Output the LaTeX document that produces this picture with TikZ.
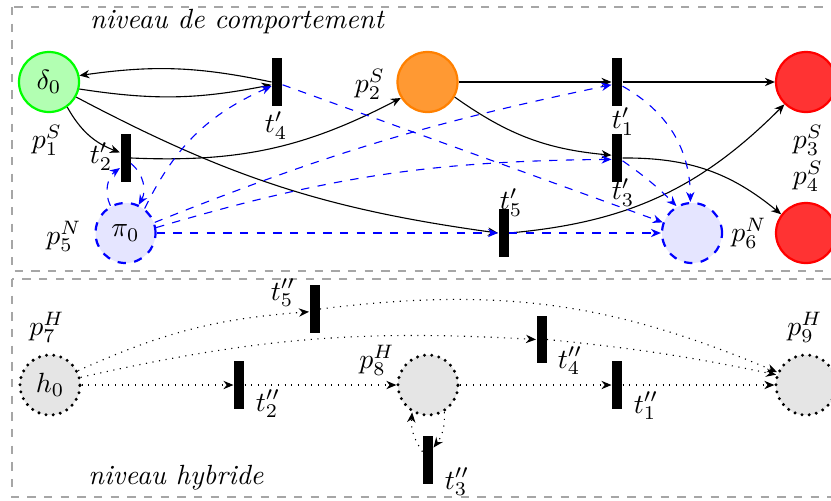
\documentclass[tikz,border=0pt]{standalone}
\usetikzlibrary{arrows.meta}
\begin{document}
\begin{tikzpicture}[x=0.36pt,y=0.36pt,
  pl/.style={circle,minimum size=21.6pt,inner sep=0pt,thick},
  tr/.style={rectangle,fill=black,minimum width=3.6pt,minimum height=17pt,inner sep=0pt},
  flow/.style={-{Stealth[length=3.6pt,width=3pt]}},
  netflow/.style={flow,blue,dashed},
  hyflow/.style={flow,dotted},
  hpl/.style={pl,fill=gray!20,draw=black,line width=1.2pt,dash pattern=on 0pt off 2.6pt,line cap=round},
  lbl/.style={inner sep=0pt},
  zone/.style={draw=gray!70,dashed}]
\useasboundingbox (0,0) rectangle (831,500);
% zones
\draw[zone] (12,493) rectangle (845,229);
\draw[zone] (12,221) rectangle (845,3);
\node[lbl] (zt) at (237,478) {\itshape niveau de comportement};
\node[lbl] (zb) at (176,22) {\itshape niveau hybride};
% top level
\node[pl,fill=green!30,draw=green] (d0) at (49,418) {$\delta_0$};
\node[tr] (t4) at (277,418) {};
\node[tr] (t2) at (125.5,342) {};
\node[pl,fill=blue!10,draw=blue,dashed] (pi0) at (125.5,267) {$\pi_0$};
\node[pl,fill=orange!80,draw=orange] (p2) at (427.5,418) {};
\node[tr] (t1) at (617,418) {};
\node[tr] (t3) at (617,342) {};
\node[tr] (t5) at (503.5,267) {};
\node[pl,fill=blue!10,draw=blue,dashed] (p6) at (692,267) {};
\node[pl,fill=red!80,draw=red] (p3) at (806,418) {};
\node[pl,fill=red!80,draw=red] (p4) at (806,267) {};
% top labels
\node[lbl] (lp1) at (47,360) {$p_1^S$};
\node[lbl] (lp2) at (370,416) {$p_2^S$};
\node[lbl] (lt4) at (276,374) {$t'_4$};
\node[lbl] (lt2) at (101,343) {$t'_2$};
\node[lbl] (lp5) at (64,264) {$p_5^N$};
\node[lbl] (lt1) at (623,378) {$t'_1$};
\node[lbl] (lp3) at (808,360) {$p_3^S$};
\node[lbl] (lp4) at (808,324) {$p_4^S$};
\node[lbl] (lt3) at (623,307) {$t'_3$};
\node[lbl] (lt5) at (511,297) {$t'_5$};
\node[lbl] (lp6) at (749,267) {$p_6^N$};
% top black arcs
\draw[flow] (d0.-13) to[bend right=10] ([yshift=-1pt]t4.west);
\draw[flow] (t4.west) to[bend right=10] (d0.12);
\draw[flow] (d0.-54) to[bend right=20] ([yshift=2pt]t2.west);
\draw[flow] (t2.east) to[bend right=15] (p2.211);
\draw[flow] (d0.-29) to[bend right=10] (t5.west);
\draw[flow] (p2) -- (t1);
\draw[flow] (t1) -- (p3);
\draw[flow] (p2.-29) to[bend right=15] ([yshift=1pt]t3.west);
\draw[flow] (t3.east) to[bend left=20] (p4.143);
\draw[flow] (t5.east) to[bend right=20] (p3.226);
% top blue arcs
\draw[netflow] (pi0.52) to[bend left=20] ([yshift=-1.5pt]t4.west);
\draw[netflow] ([yshift=-1pt]t4.east) -- (p6.160);
\draw[netflow] (pi0.20) to[bend left=5] ([yshift=-1pt]t1.west);
\draw[netflow] (pi0.10) to[bend left=8] ([yshift=-0.5pt]t3.west);
\draw[netflow] (pi0.east) -- (t5.west);
\draw[netflow] (t5.east) -- (p6.west);
\draw[netflow] ([yshift=-1.5pt]t1.east) to[bend left=30] (p6.93);
\draw[netflow] ([yshift=-1pt]t3.east) to[bend left=5] (p6.120);
\draw[netflow] (pi0.119) to[bend left=40] ([yshift=-3.6pt]t2.west);
\draw[netflow] ([yshift=-2pt]t2.east) to[bend left=40] (pi0.65);
% bottom level
\node[hpl] (h0) at (50,115) {$h_0$};
\node[tr] (u5) at (314.5,191) {};
\node[tr] (u2) at (239,115) {};
\node[hpl] (p8) at (428,115) {};
\node[tr] (u4) at (541.5,160.5) {};
\node[tr] (u1) at (617,115) {};
\node[tr] (u3) at (428,40) {};
\node[hpl] (p9) at (806,115) {};
% bottom labels
\node[lbl] (lp7) at (47,173) {$p_7^H$};
\node[lbl] (lu5) at (283,207) {$t''_5$};
\node[lbl] (lu2) at (268,96) {$t''_2$};
\node[lbl] (lp8) at (377,140) {$p_8^H$};
\node[lbl] (lu4) at (570,139) {$t''_4$};
\node[lbl] (lu1) at (646,94) {$t''_1$};
\node[lbl] (lu3) at (457,18) {$t''_3$};
\node[lbl] (lp9) at (805,173) {$p_9^H$};
% bottom dotted arcs
\draw[hyflow] (h0.27) to[bend left=10] ([yshift=-1pt]u5.west);
\draw[hyflow] (h0.14) to[bend left=8] (u4.west);
\draw[hyflow] (h0) -- (u2);
\draw[hyflow] (u2) -- (p8);
\draw[hyflow] (p8) -- (u1);
\draw[hyflow] (u1) -- (p9);
\draw[hyflow] (u5.east) to[bend left=15] (p9.156);
\draw[hyflow] (u4.east) to[bend left=3] (p9.161);
\draw[hyflow] ([yshift=3pt]u3.west) to[bend left=20] (p8.240);
\draw[hyflow] (p8.-59) to[bend left=20] ([yshift=4.5pt]u3.east);
\end{tikzpicture}
\end{document}
